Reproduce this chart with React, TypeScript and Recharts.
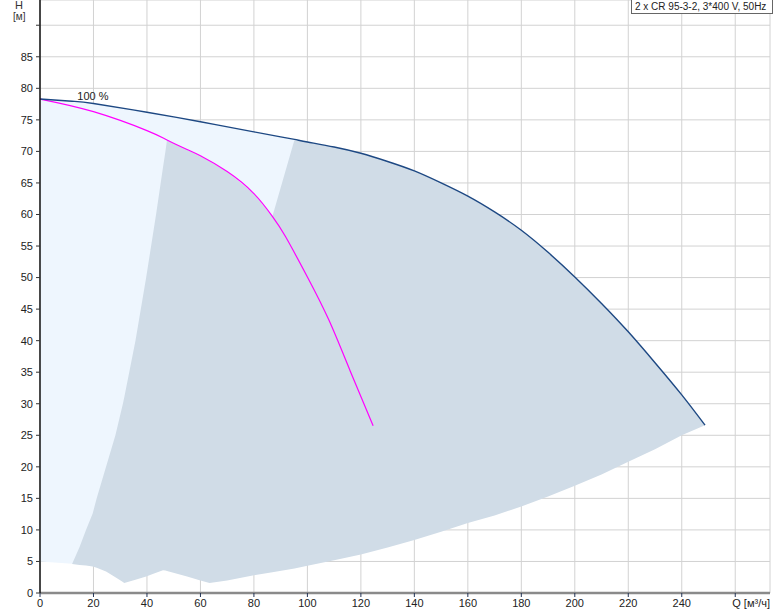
import React from 'react';
import { ComposedChart, Area, Line, XAxis, YAxis, CartesianGrid, ReferenceDot } from 'recharts';

// ---- ticks ----
const xTicks = [0, 20, 40, 60, 80, 100, 120, 140, 160, 180, 200, 220, 240, 260];
const yTicks = [0, 5, 10, 15, 20, 25, 30, 35, 40, 45, 50, 55, 60, 65, 70, 75, 80, 85, 90];

// ---- pump curve (2 pumps, 100 %) ----
const blueQ = [0, 12, 20, 40, 60, 80, 90, 95.2, 100, 110, 120, 130, 140, 150, 160, 170, 180, 190, 200, 210, 220, 230, 240, 248.7];
const blueH = [78.3, 77.95, 77.6, 76.2, 74.7, 73.1, 72.3, 71.9, 71.5, 70.7, 69.7, 68.4, 66.9, 65.0, 62.9, 60.4, 57.5, 54.0, 50.1, 45.9, 41.4, 36.5, 31.4, 26.6];

// ---- single pump curve ----
const magentaQ = [0, 20, 40, 47.5, 55, 60, 70, 80, 86.9, 91.8, 100, 108, 116, 124.6];
const magentaH = [78.3, 76.3, 73.3, 71.8, 70.3, 69.3, 66.8, 63.3, 59.7, 56.5, 50.1, 43.3, 35.2, 26.5];

// ---- light blue full area ----
const lightQ = [0, 12, 20, 40, 60, 80, 90, 95.2];
const lightTop = [78.3, 77.95, 77.6, 76.2, 74.7, 73.1, 72.3, 71.9];
const lightBottom = [5.0, 4.65, 4.65, 4.65, 4.65, 4.65, 4.65, 4.65];

// ---- grey operating area ----
const greyQ = [12, 14.8, 17.2, 19.7, 21.2, 24.7, 28.2, 31, 31.5, 35.7, 39.7, 43.4, 46, 46.9, 47.5, 55, 60, 63.4, 70, 80, 86.9, 95.2, 100, 110, 120, 130, 140, 150, 160, 170, 180, 190, 200, 210, 220, 230, 240, 248.7];
const greyTop = [4.6, 7.3, 10, 12.6, 15, 20, 25, 30, 31, 40, 50, 60, 67.5, 70, 71.8, 70.3, 69.3, 68.45, 66.8, 63.3, 59.7, 71.9, 71.5, 70.7, 69.7, 68.4, 66.9, 65.0, 62.9, 60.4, 57.5, 54.0, 50.1, 45.9, 41.4, 36.5, 31.4, 26.6];
const greyBottom = [4.6, 4.45, 4.35, 4.2, 4.0, 3.4, 2.5, 1.75, 1.6, 2.1, 2.6, 3.2, 3.6, 3.55, 3.5, 2.6, 2.0, 1.6, 2.0, 2.8, 3.3, 3.9, 4.3, 5.2, 6.1, 7.2, 8.4, 9.7, 11.1, 12.3, 13.7, 15.3, 17.0, 18.8, 20.8, 22.8, 25.0, 26.6];

const blueData = blueQ.map((q, i) => ({ q, h: blueH[i] }));
const magentaData = magentaQ.map((q, i) => ({ q, h: magentaH[i] }));
const lightData = lightQ.map((q, i) => ({ q, range: [lightBottom[i], lightTop[i]] }));
const greyData = greyQ.map((q, i) => ({ q, range: [greyBottom[i], greyTop[i]] }));

const FONT = '"Liberation Sans", Arial, sans-serif';
const TXT = '#222';

const XTick = (props: any) => {
  const { x, y, payload } = props;
  const v = payload.value;
  if (v === 260) {
    return (
      <text x={x - 3} y={y} dy="0.71em" textAnchor="start" fontSize={11} fontFamily={FONT} fill={TXT}>
        Q [м³/ч]
      </text>
    );
  }
  return (
    <text x={x} y={y} dy="0.71em" textAnchor="middle" fontSize={11} fontFamily={FONT} fill={TXT}>
      {v}
    </text>
  );
};

const YTick = (props: any) => {
  const { x, y, payload } = props;
  const v = payload.value;
  if (v === 90) return <g />;
  return (
    <text x={x} y={y} dy="0.35em" textAnchor="end" fontSize={11} fontFamily={FONT} fill={TXT}>
      {v}
    </text>
  );
};

export default function App() {
  return (
    <div style={{ position: 'absolute', left: 0, top: 0, width: 774, height: 611, background: '#fff' }}>
      <ComposedChart width={774} height={611} margin={{ top: 0, right: 4, bottom: 0, left: 0 }}>
        <XAxis
          type="number"
          dataKey="q"
          domain={[0, 273]}
          ticks={xTicks}
          interval={0}
          allowDataOverflow
          height={18}
          tickSize={4}
          tickMargin={2}
          tick={<XTick />}
          axisLine={{ stroke: '#8a8a8a', strokeWidth: 2.5 }}
          tickLine={{ stroke: '#223355' }}
        />
        <YAxis
          type="number"
          domain={[0, 94]}
          ticks={yTicks}
          interval={0}
          allowDataOverflow
          width={40}
          tickSize={4}
          tickMargin={3}
          tick={<YTick />}
          axisLine={{ stroke: '#111', strokeWidth: 1.5 }}
          tickLine={{ stroke: '#333' }}
        />
        <Area
          data={lightData}
          dataKey="range"
          type="linear"
          stroke="none"
          fill="#eef6fe"
          fillOpacity={1}
          isAnimationActive={false}
          activeDot={false}
        />
        <Area
          data={greyData}
          dataKey="range"
          type="linear"
          stroke="none"
          fill="#d0dce7"
          fillOpacity={1}
          isAnimationActive={false}
          activeDot={false}
        />
        <CartesianGrid stroke="#d2d2d2" strokeWidth={1} />
        <Line
          data={magentaData}
          dataKey="h"
          type="natural"
          stroke="#ff00ff"
          strokeWidth={1.2}
          dot={false}
          activeDot={false}
          isAnimationActive={false}
        />
        <Line
          data={blueData}
          dataKey="h"
          type="natural"
          stroke="#1d4883"
          strokeWidth={1.4}
          dot={false}
          activeDot={false}
          isAnimationActive={false}
        />
        <ReferenceDot
          x={19.8}
          y={78.8}
          r={2}
          fill="none"
          stroke="none"
          label={{ value: '100 %', position: 'center', fontSize: 11, fill: TXT, fontFamily: FONT }}
        />
      </ComposedChart>
      <div style={{ position: 'absolute', left: 15, top: -1, fontSize: 11, lineHeight: '12px', fontFamily: FONT, color: '#333' }}>H</div>
      <div style={{ position: 'absolute', left: 13, top: 11, fontSize: 10, lineHeight: '12px', fontFamily: FONT, color: '#333' }}>[м]</div>
      <div
        style={{
          position: 'absolute',
          left: 631,
          top: -1,
          width: 142,
          height: 15,
          border: '1px solid #666',
          background: '#fff',
          fontSize: 10,
          lineHeight: '14px',
          fontFamily: FONT,
          color: TXT,
          paddingLeft: 3,
          boxSizing: 'border-box',
          whiteSpace: 'nowrap',
        }}
      >
        2 x CR 95-3-2, 3*400 V, 50Hz
      </div>
    </div>
  );
}
